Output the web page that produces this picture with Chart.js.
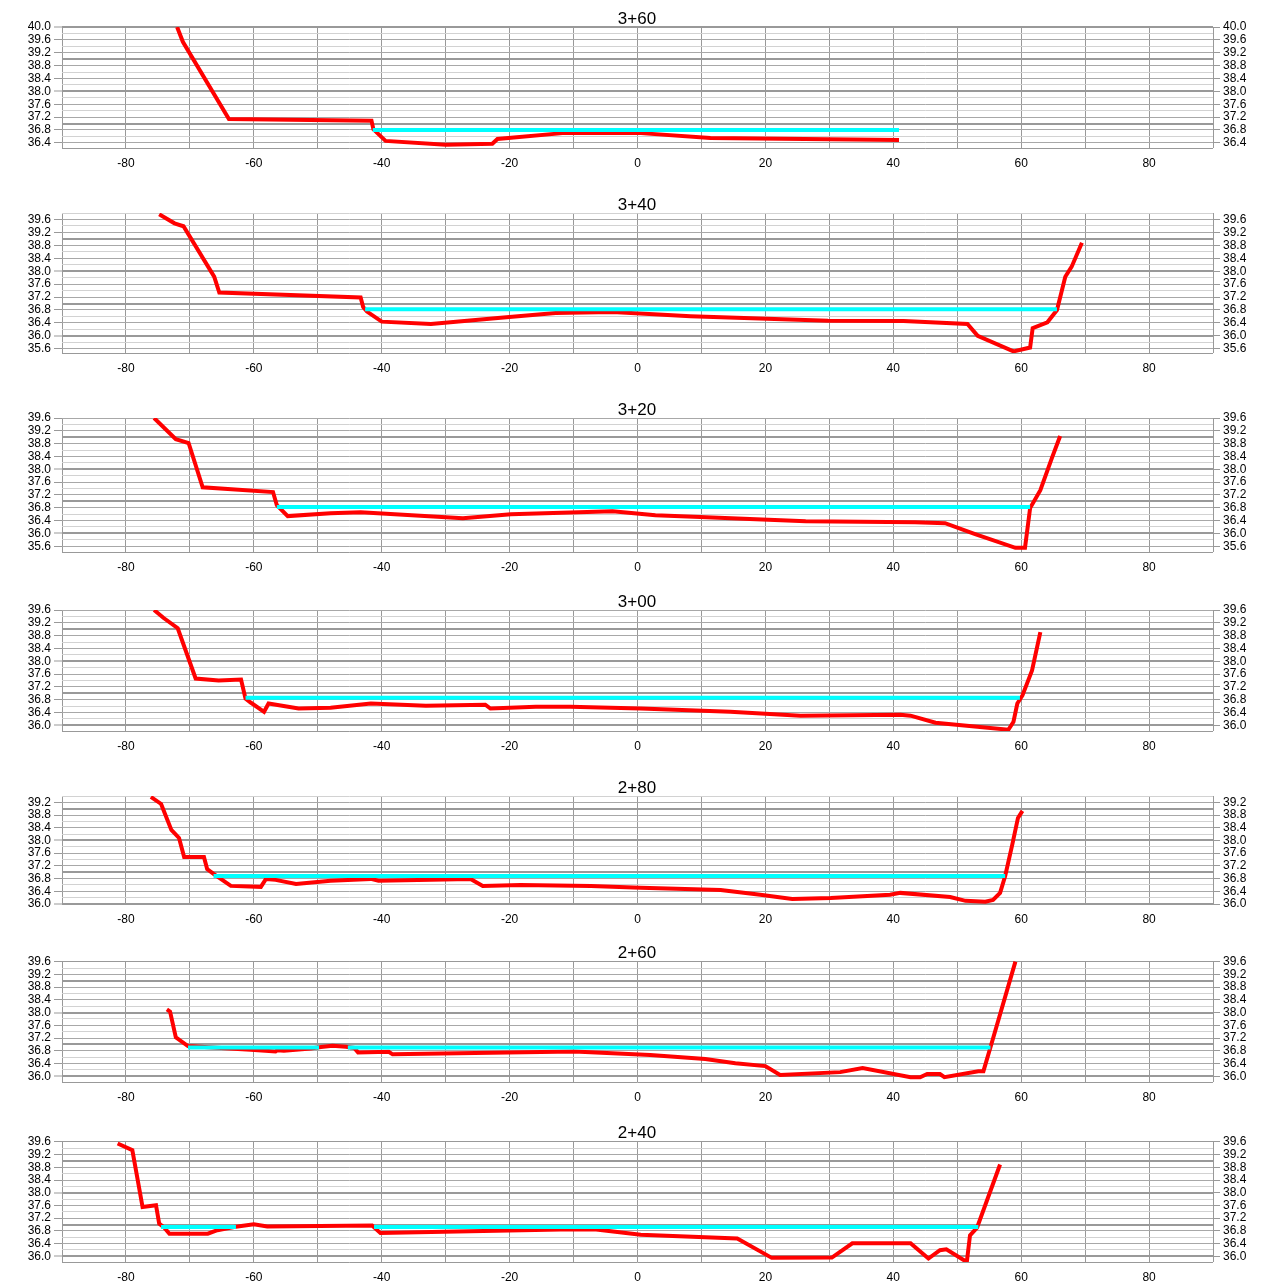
<!DOCTYPE html>
<html>
<head>
<meta charset="utf-8">
<title>Cross sections</title>
<script src="https://cdn.jsdelivr.net/npm/chart.js@4.4.0/dist/chart.umd.min.js"></script>
<style>
  body { margin: 0; background: #fff; width: 1274px; height: 1287px; position: relative; overflow: hidden; }
  canvas { position: absolute; left: 0; }
</style>
</head>
<body>
<script>
// station labels, top to bottom
const stations = ["3+60", "3+40", "3+20", "3+00", "2+80", "2+60", "2+40"];

// ground profile (red) and water surface (cyan) for each station
const ground360X = [-72.0, -71.1, -63.9, -41.6, -41.3, -39.4, -30.0, -22.7, -21.9, -11.3, 0.0, 11.4, 40.9];
const ground360Y = [40.0, 39.54, 37.14, 37.09, 36.82, 36.46, 36.34, 36.37, 36.52, 36.71, 36.71, 36.55, 36.49];
const water360X = [-41.4, 40.9];
const water360Y = [36.8, 36.8];

const ground340X = [-74.8, -72.4, -71.0, -66.2, -65.4, -43.3, -42.9, -42.3, -40.0, -32.3, -21.4, -12.8, -3.9, 8.3, 29.8, 41.6, 51.6, 53.2, 58.8, 61.4, 61.8, 64.1, 65.6, 66.9, 67.9, 69.5];
const ground340Y = [39.76, 39.48, 39.39, 37.83, 37.34, 37.19, 36.89, 36.75, 36.44, 36.37, 36.56, 36.71, 36.74, 36.61, 36.47, 36.46, 36.37, 36.0, 35.52, 35.64, 36.24, 36.42, 36.80, 37.83, 38.14, 38.88];
const water340X = [-42.6, 65.6];
const water340Y = [36.82, 36.82];

const ground320X = [-75.6, -72.2, -70.2, -68.0, -57.0, -56.4, -54.7, -48.0, -43.3, -27.3, -19.8, -3.9, 2.8, 9.8, 26.3, 43.4, 48.1, 52.8, 59.1, 60.6, 61.4, 63.0, 64.8, 66.1];
const ground320Y = [39.6, 38.94, 38.82, 37.44, 37.29, 36.88, 36.54, 36.63, 36.66, 36.47, 36.6, 36.69, 36.57, 36.51, 36.38, 36.35, 36.32, 35.98, 35.55, 35.55, 36.79, 37.35, 38.35, 39.04];
const water320X = [-56.4, 61.4];
const water320Y = [36.82, 36.82];

const ground300X = [-75.6, -74.1, -71.9, -69.1, -65.5, -62.0, -61.3, -60.5, -58.4, -57.7, -53.0, -48.0, -41.7, -33.1, -23.8, -23.0, -15.9, -10.5, 0.5, 14.5, 25.5, 41.1, 42.7, 46.6, 58.0, 58.8, 59.4, 60.2, 61.7, 63.0];
const ground300Y = [39.6, 39.35, 39.03, 37.46, 37.40, 37.43, 36.83, 36.71, 36.42, 36.68, 36.52, 36.55, 36.68, 36.61, 36.64, 36.52, 36.58, 36.58, 36.52, 36.42, 36.30, 36.33, 36.30, 36.08, 35.86, 36.11, 36.68, 36.93, 37.71, 38.91];
const water300X = [-61.3, 59.8];
const water300Y = [36.86, 36.86];

const ground280X = [-76.1, -74.5, -72.9, -71.7, -70.9, -67.8, -67.3, -66.3, -63.6, -58.9, -58.1, -56.6, -53.4, -48.0, -41.7, -40.5, -26.1, -24.2, -18.3, -7.3, 0.5, 13.0, 19.2, 24.2, 30.2, 39.5, 41.1, 48.9, 51.3, 54.4, 55.6, 56.7, 57.5, 58.6, 59.5, 60.2];
const ground280Y = [39.37, 39.15, 38.33, 38.08, 37.48, 37.48, 37.10, 36.95, 36.57, 36.54, 36.79, 36.76, 36.63, 36.73, 36.79, 36.73, 36.79, 36.57, 36.60, 36.57, 36.51, 36.44, 36.29, 36.16, 36.19, 36.29, 36.35, 36.22, 36.10, 36.07, 36.13, 36.35, 36.88, 37.86, 38.71, 38.93];
const water280X = [-66.3, 57.5];
const water280Y = [36.88, 36.88];

const ground260X = [-73.6, -73.1, -72.2, -70.3, -60.5, -56.6, -56.3, -55.3, -51.1, -49.5, -47.7, -45.6, -44.3, -43.7, -38.9, -38.3, -9.9, 2.0, 10.6, 15.3, 20.0, 22.3, 31.7, 35.2, 42.7, 44.2, 45.3, 47.3, 48.0, 53.3, 54.1, 55.2, 59.1];
const ground260Y = [38.1, 38.03, 37.22, 36.95, 36.83, 36.78, 36.82, 36.8, 36.87, 36.92, 36.96, 36.93, 36.89, 36.75, 36.77, 36.69, 36.78, 36.67, 36.54, 36.41, 36.32, 36.04, 36.13, 36.26, 35.97, 35.97, 36.07, 36.07, 35.97, 36.16, 36.16, 36.91, 39.6];
const water260X = [-70.3, -49.8, -47.5, -45.3, 55.2];
const water260Y = [36.9, 36.9, null, 36.9, 36.9];

const ground240X = [-81.3, -79.0, -77.4, -75.3, -74.8, -74.0, -73.2, -67.2, -65.7, -63.1, -60.0, -57.9, -41.5, -40.2, -12.0, -6.8, 0.5, 15.6, 21.0, 30.4, 33.6, 42.7, 45.5, 47.3, 48.3, 51.5, 52.0, 53.1, 56.7];
const ground240Y = [39.55, 39.34, 37.55, 37.61, 37.03, 36.9, 36.71, 36.71, 36.82, 36.92, 37.01, 36.94, 36.97, 36.73, 36.84, 36.85, 36.68, 36.56, 35.95, 35.96, 36.41, 36.41, 35.93, 36.19, 36.22, 35.82, 36.66, 36.9, 38.89];
const water240X = [-74.5, -62.8, -52.0, -41.2, 53.3];
const water240Y = [36.92, 36.92, null, 36.92, 36.92];

// axis ranges
const xMin = -90;
const xMax = 90;
const yMins = [36.24, 35.47, 35.42, 35.82, 36.0, 35.82, 35.82];
const yMaxs = [40.0, 39.8, 39.6, 39.6, 39.4, 39.62, 39.63];

const groundX = [ground360X, ground340X, ground320X, ground300X, ground280X, ground260X, ground240X];
const groundY = [ground360Y, ground340Y, ground320Y, ground300Y, ground280Y, ground260Y, ground240Y];
const waterX = [water360X, water340X, water320X, water300X, water280X, water260X, water240X];
const waterY = [water360Y, water340Y, water320Y, water300Y, water280Y, water260Y, water240Y];

// page layout (pixel rows of each plot area)
const plotTops = [27, 213, 418, 610, 796, 961, 1141];
const plotBottoms = [148, 353, 552, 731, 904, 1082, 1262];
const TITLE_H = 20;
const XAXIS_H = 28;

Chart.defaults.font.family = "'Liberation Sans', Arial, Helvetica, sans-serif";
Chart.defaults.font.size = 12;
Chart.defaults.color = "#000";

function near(a, b) {
    return Math.abs(a - b) < 1e-6;
}

function yTickValues(min, max) {
    const vals = [];
    const k0 = Math.ceil(min / 0.2 - 1e-6);
    const k1 = Math.floor(max / 0.2 + 1e-6);
    if (!near(k0 * 0.2, min)) vals.push(min);
    for (let k = k0; k <= k1; k++) vals.push(Math.round(k * 2) / 10);
    if (!near(k1 * 0.2, max)) vals.push(max);
    return vals;
}

function stepIndex(v) {
    const k = v / 0.2;
    return near(k, Math.round(k)) ? Math.round(k) : null;
}

function isLabeled(v) {
    const k = stepIndex(v);
    return k !== null && k % 2 === 0;
}

function lineColor(v) {
    const k = stepIndex(v);
    if (k === null) return "#999";
    if (k % 5 === 0) return "#999";
    if (k % 2 === 0) return "#a8a8a8";
    return "#d2d2d2";
}

function lineWidth(v) {
    const k = stepIndex(v);
    return k !== null && k % 5 === 0 ? 2 : 1;
}

function toPoints(xs, ys) {
    return xs.map((x, i) => ({ x: x, y: ys[i] }));
}

function makeChart(i) {
    const canvas = document.createElement("canvas");
    const h = plotBottoms[i] - plotTops[i] + TITLE_H + XAXIS_H;
    canvas.width = 1274;
    canvas.height = h;
    canvas.style.top = (plotTops[i] - TITLE_H) + "px";
    document.body.appendChild(canvas);

    const ticks = yTickValues(yMins[i], yMaxs[i]);
    const setTicks = function (scale) {
        scale.ticks = ticks.map(v => ({ value: v }));
    };

    new Chart(canvas, {
        type: "line",
        data: {
            datasets: [
                {
                    data: toPoints(waterX[i], waterY[i]),
                    borderColor: "#00ffff",
                    borderWidth: 4,
                    pointRadius: 0,
                    fill: false,
                    spanGaps: false,
                },
                {
                    data: toPoints(groundX[i], groundY[i]),
                    borderColor: "#ff0000",
                    borderWidth: 4,
                    pointRadius: 0,
                    fill: false,
                },
            ],
        },
        options: {
            responsive: false,
            animation: false,
            devicePixelRatio: 1,
            layout: { padding: 0 },
            plugins: {
                legend: { display: false },
                tooltip: { enabled: false },
                title: {
                    display: true,
                    text: stations[i],
                    color: "#000",
                    padding: { top: 4, bottom: 0 },
                    font: { size: 17, weight: "normal", lineHeight: "16px" },
                },
            },
            scales: {
                x: {
                    type: "linear",
                    position: "bottom",
                    min: xMin,
                    max: xMax,
                    afterFit: s => { s.height = XAXIS_H; },
                    border: { display: false },
                    grid: { color: "#999", lineWidth: 1, drawTicks: false },
                    ticks: {
                        stepSize: 10,
                        autoSkip: false,
                        maxRotation: 0,
                        padding: 8,
                        callback: v => (v % 20 === 0 ? String(v) : ""),
                    },
                },
                y: {
                    type: "linear",
                    position: "left",
                    min: yMins[i],
                    max: yMaxs[i],
                    afterBuildTicks: setTicks,
                    afterFit: s => { s.width = 62; },
                    border: { display: false },
                    grid: {
                        color: c => lineColor(c.tick.value),
                        lineWidth: c => lineWidth(c.tick.value),
                        tickLength: 8,
                        tickColor: c => (isLabeled(c.tick.value) ? "#999" : "rgba(0,0,0,0)"),
                        tickWidth: 1,
                    },
                    ticks: {
                        autoSkip: false,
                        padding: 3,
                        callback: v => (isLabeled(v) ? v.toFixed(1) : ""),
                    },
                },
                y2: {
                    type: "linear",
                    position: "right",
                    min: yMins[i],
                    max: yMaxs[i],
                    afterBuildTicks: setTicks,
                    afterFit: s => { s.width = 61; },
                    border: { display: false },
                    grid: {
                        drawOnChartArea: false,
                        tickLength: 7,
                        tickColor: c => (isLabeled(c.tick.value) ? "#999" : "rgba(0,0,0,0)"),
                        tickWidth: 1,
                    },
                    ticks: {
                        autoSkip: false,
                        padding: 3,
                        callback: v => (isLabeled(v) ? v.toFixed(1) : ""),
                    },
                },
            },
        },
    });
}

stations.forEach((_, i) => makeChart(i));
</script>
</body>
</html>
